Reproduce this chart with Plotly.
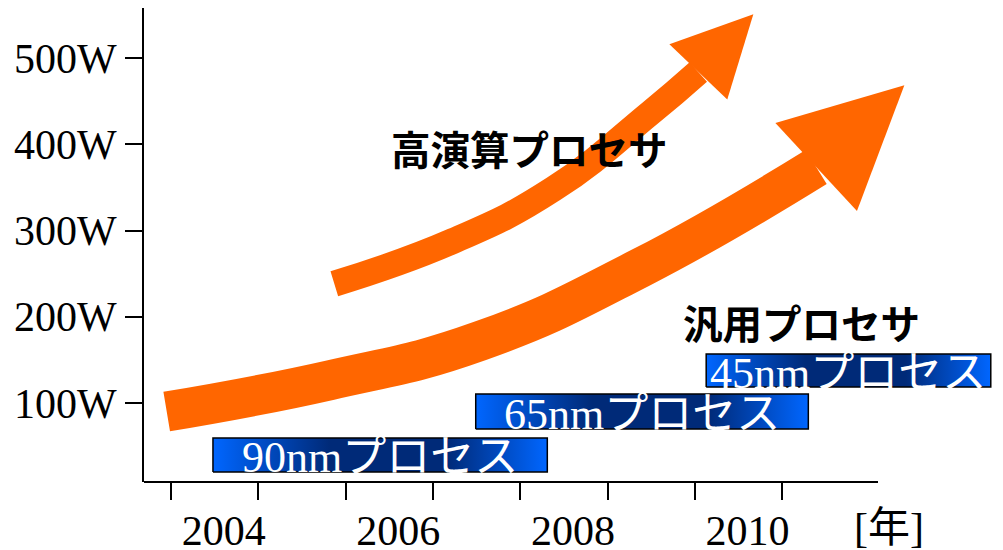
import plotly.graph_objects as go

# ---- canvas / axis layout ----
WIDTH, HEIGHT = 1003, 550
M_L, M_R, M_T, M_B = 144, 0, 8, 68
X_RANGE = [2003.19, 2013.03]
Y_RANGE = [8.35, 558.2]

# ---- axis ticks ----
year_ticks = [2003.5, 2004.5, 2005.5, 2006.5, 2007.5, 2008.5, 2009.5, 2010.5]
year_labels = [2004, 2006, 2008, 2010]
power_ticks = [100, 200, 300, 400, 500]
power_labels = ["100W", "200W", "300W", "400W", "500W"]
unit_label = "[年]"
unit_pos = 2011.72

# ---- process generations (year span, power band) ----
process_names = ["90nmプロセス", "65nmプロセス", "45nmプロセス"]
process_start = [2003.98, 2006.99, 2009.63]
process_end = [2007.81, 2010.80, 2012.89]
process_low = [20.0, 69.8, 118.6]
process_high = [59.4, 110.4, 156.8]

# ---- power trend arrows (centre line, tip, widths in px) ----
general_name = "汎用プロセサ"
general_x = [2003.45, 2005.32, 2007.04, 2008.88, 2010.89]
general_y = [90.1, 126.5, 172.0, 257.0, 373.8]
general_tip = (2011.90, 468.6)
general_label_pos = (2010.72, 195.1)
general_shaft_px = 40
general_head_px = 120

hpc_name = "高演算プロセサ"
hpc_x = [2005.37, 2006.73, 2007.88, 2008.99, 2009.54]
hpc_y = [238.3, 287.9, 348.3, 436.4, 484.0]
hpc_tip = (2010.17, 550.9)
hpc_label_pos = (2007.61, 396.4)
hpc_shaft_px = 26
hpc_head_px = 80

ORANGE = "#ff6600"
BLUE_LIGHT = "#0066ff"
BLUE_DARK = "#002a78"
SERIF = "Liberation Serif, Noto Sans CJK JP"
SANS_JP = "Noto Sans CJK JP"

plot_w = WIDTH - M_L - M_R
plot_h = HEIGHT - M_T - M_B
px_per_x = plot_w / (X_RANGE[1] - X_RANGE[0])
px_per_y = plot_h / (Y_RANGE[1] - Y_RANGE[0])


def head_polygon(base, tip, width_px):
    """Triangle arrow head in data units, built in screen space."""
    bx, by = base[0] * px_per_x, base[1] * px_per_y
    tx, ty = tip[0] * px_per_x, tip[1] * px_per_y
    dx, dy = tx - bx, ty - by
    n = (dx * dx + dy * dy) ** 0.5
    nx, ny = -dy / n, dx / n
    h = width_px / 2
    pts = [(bx + nx * h, by + ny * h), (tx, ty), (bx - nx * h, by - ny * h)]
    xs = [p[0] / px_per_x for p in pts] + [pts[0][0] / px_per_x]
    ys = [p[1] / px_per_y for p in pts] + [pts[0][1] / px_per_y]
    return xs, ys


fig = go.Figure()

# process bands with a horizontal blue gradient
for name, x0, x1, y0, y1 in zip(process_names, process_start, process_end,
                                process_low, process_high):
    fig.add_trace(go.Scatter(
        x=[x0, x1, x1, x0, x0], y=[y0, y0, y1, y1, y0],
        mode="lines", fill="toself",
        line=dict(color="black", width=1.5),
        fillgradient=dict(type="horizontal", colorscale=[
            [0.0, BLUE_LIGHT], [0.35, BLUE_DARK], [0.7, BLUE_DARK], [1.0, BLUE_LIGHT]]),
        hoverinfo="skip", showlegend=False))

# trend arrows: thick spline shaft + triangular head
for xs, ys, tip, shaft, head in [
        (general_x, general_y, general_tip, general_shaft_px, general_head_px),
        (hpc_x, hpc_y, hpc_tip, hpc_shaft_px, hpc_head_px)]:
    fig.add_trace(go.Scatter(
        x=xs, y=ys, mode="lines",
        line=dict(color=ORANGE, width=shaft, shape="spline", smoothing=1.3),
        hoverinfo="skip", showlegend=False))
    hx, hy = head_polygon((xs[-1], ys[-1]), tip, head)
    fig.add_trace(go.Scatter(
        x=hx, y=hy, mode="lines", fill="toself", fillcolor=ORANGE,
        line=dict(color=ORANGE, width=0),
        hoverinfo="skip", showlegend=False))

annotations = []
for name, x0, x1, y0, y1 in zip(process_names, process_start, process_end,
                                process_low, process_high):
    annotations.append(dict(
        x=(x0 + x1) / 2, y=(y0 + y1) / 2, text=name, showarrow=False,
        font=dict(family=SERIF, size=44, color="white"),
        xanchor="center", yanchor="middle", yshift=-3))

for name, (lx, ly) in [(hpc_name, hpc_label_pos), (general_name, general_label_pos)]:
    annotations.append(dict(
        x=lx, y=ly, text=f"<b>{name}</b>", showarrow=False,
        font=dict(family=SANS_JP, size=39.5, color="black"),
        xanchor="center", yanchor="middle"))

annotations.append(dict(
    x=unit_pos, xref="x", y=0, yref="paper", text=unit_label, showarrow=False,
    font=dict(family=SERIF, size=42, color="black"),
    xanchor="center", yanchor="top", yshift=-21))

fig.update_layout(
    width=WIDTH, height=HEIGHT,
    margin=dict(l=M_L, r=M_R, t=M_T, b=M_B, pad=0, autoexpand=False),
    paper_bgcolor="white", plot_bgcolor="white",
    showlegend=False,
    annotations=annotations,
    shapes=[dict(type="line", xref="paper", yref="paper",
                 x0=0, x1=(878 - M_L) / plot_w, y0=0, y1=0,
                 line=dict(color="black", width=2))],
    xaxis=dict(range=X_RANGE, showgrid=False, zeroline=False, showline=False,
               automargin=False,
               tickmode="array", tickvals=year_ticks, showticklabels=False,
               ticks="outside", ticklen=17, tickwidth=2, tickcolor="black"),
    xaxis2=dict(range=X_RANGE, overlaying="x", side="bottom", matches="x",
                automargin=False,
                showgrid=False, zeroline=False, showline=False,
                tickmode="array", tickvals=year_labels,
                ticktext=[str(y) for y in year_labels], ticks="",
                ticklabelshift=9, ticklabelstandoff=20,
                tickfont=dict(family=SERIF, size=42, color="black")),
    yaxis=dict(range=Y_RANGE, showgrid=False, zeroline=False, automargin=False,
               showline=True, linecolor="black", linewidth=2,
               tickmode="array", tickvals=power_ticks, ticktext=power_labels,
               ticks="outside", ticklen=17, tickwidth=2, tickcolor="black",
               tickfont=dict(family=SERIF, size=42, color="black")),
)

# invisible trace that carries the year labels axis
fig.add_trace(go.Scatter(x=[X_RANGE[0]], y=[Y_RANGE[0]], xaxis="x2",
                         mode="markers", marker=dict(opacity=0),
                         hoverinfo="skip", showlegend=False))

fig.write_html("out.html")
